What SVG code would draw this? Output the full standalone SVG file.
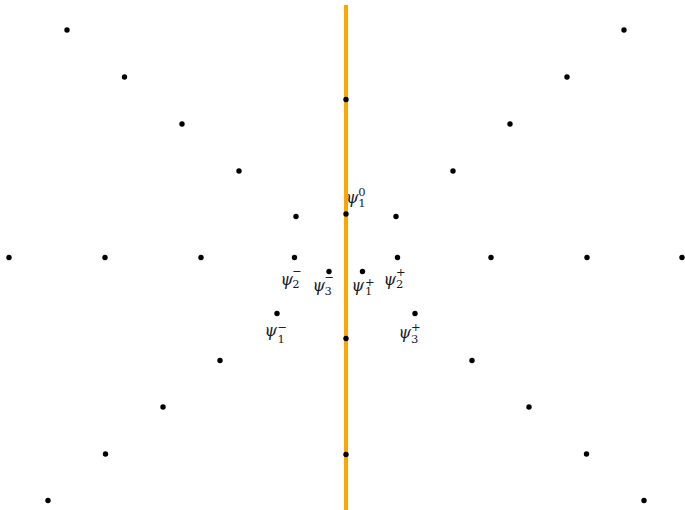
<svg xmlns="http://www.w3.org/2000/svg" width="685" height="510" viewBox="0 0 685 510">
<style>
.d{fill:#000}
text{font-family:"DejaVu Serif","Liberation Serif",serif;fill:#1a1a1a}
.p{font-style:italic;font-size:16px}
.s{font-style:normal;font-size:11.5px}
</style>
<rect width="685" height="510" fill="#fff"/>
<g id="connectors">
<line x1="346" y1="5" x2="346" y2="510" stroke="#FFA500" stroke-width="4"/>
</g>
<g id="dots">
<circle class="d" cx="67" cy="30" r="2.7"/>
<circle class="d" cx="124.5" cy="77" r="2.7"/>
<circle class="d" cx="182" cy="124" r="2.7"/>
<circle class="d" cx="239" cy="171" r="2.7"/>
<circle class="d" cx="296" cy="216.5" r="2.7"/>
<circle class="d" cx="624" cy="30" r="2.7"/>
<circle class="d" cx="567" cy="77" r="2.7"/>
<circle class="d" cx="510" cy="124" r="2.7"/>
<circle class="d" cx="453" cy="171" r="2.7"/>
<circle class="d" cx="396" cy="216.5" r="2.7"/>
<circle class="d" cx="346" cy="99.5" r="2.7"/>
<circle class="d" cx="346" cy="214" r="2.7"/>
<circle class="d" cx="346" cy="338.5" r="2.7"/>
<circle class="d" cx="346" cy="454.5" r="2.7"/>
<circle class="d" cx="9" cy="257.5" r="2.7"/>
<circle class="d" cx="105" cy="257.5" r="2.7"/>
<circle class="d" cx="201" cy="257.5" r="2.7"/>
<circle class="d" cx="294.5" cy="257.5" r="2.7"/>
<circle class="d" cx="397.5" cy="257.5" r="2.7"/>
<circle class="d" cx="491" cy="257.5" r="2.7"/>
<circle class="d" cx="587" cy="257.5" r="2.7"/>
<circle class="d" cx="682" cy="257.5" r="2.7"/>
<circle class="d" cx="329" cy="271.5" r="2.7"/>
<circle class="d" cx="362.5" cy="271.5" r="2.7"/>
<circle class="d" cx="277" cy="313.5" r="2.7"/>
<circle class="d" cx="220" cy="360.5" r="2.7"/>
<circle class="d" cx="163" cy="407" r="2.7"/>
<circle class="d" cx="105.5" cy="454" r="2.7"/>
<circle class="d" cx="48" cy="500.5" r="2.7"/>
<circle class="d" cx="415" cy="313.5" r="2.7"/>
<circle class="d" cx="472" cy="360.5" r="2.7"/>
<circle class="d" cx="529" cy="407" r="2.7"/>
<circle class="d" cx="586.5" cy="454" r="2.7"/>
<circle class="d" cx="644" cy="500.5" r="2.7"/>
</g>
<g id="labels">
<g id="psi10"><text><tspan class="p" x="346" y="203">ψ</tspan><tspan class="s" x="358.3" y="196">0</tspan><tspan class="s" x="358.3" y="206.5">1</tspan></text></g>
<g id="psi2m"><text><tspan class="p" x="280.5" y="285">ψ</tspan><tspan class="s" x="292.3" y="275">−</tspan><tspan class="s" x="292.3" y="288">2</tspan></text></g>
<g id="psi3m"><text><tspan class="p" x="312.5" y="291">ψ</tspan><tspan class="s" x="324.5" y="281">−</tspan><tspan class="s" x="324.5" y="295">3</tspan></text></g>
<g id="psi1p"><text><tspan class="p" x="351.5" y="291">ψ</tspan><tspan class="s" x="365" y="285.5">+</tspan><tspan class="s" x="365" y="295">1</tspan></text></g>
<g id="psi2p"><text><tspan class="p" x="383.5" y="284.5">ψ</tspan><tspan class="s" x="396" y="276">+</tspan><tspan class="s" x="396" y="288">2</tspan></text></g>
<g id="psi1m"><text><tspan class="p" x="264.5" y="336">ψ</tspan><tspan class="s" x="277.5" y="330.5">−</tspan><tspan class="s" x="277.5" y="343">1</tspan></text></g>
<g id="psi3p"><text><tspan class="p" x="398.5" y="338">ψ</tspan><tspan class="s" x="411" y="331">+</tspan><tspan class="s" x="411" y="343">3</tspan></text></g>
</g>
</svg>
